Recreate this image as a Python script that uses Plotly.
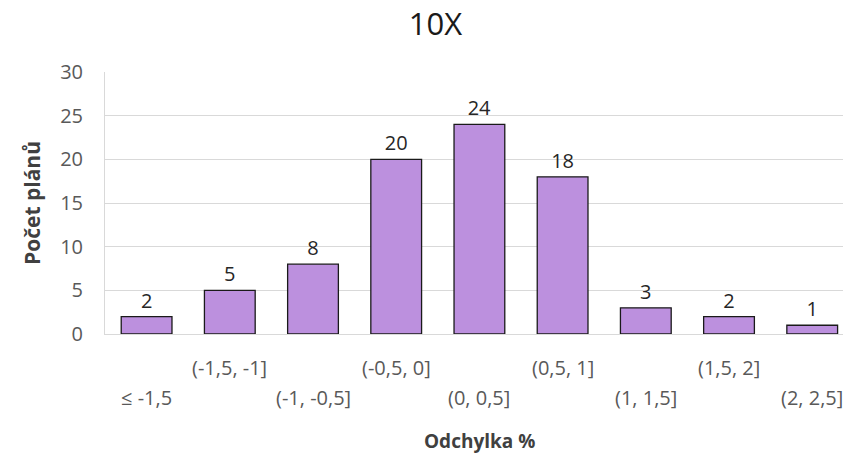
import plotly.graph_objects as go

categories = ["≤ -1,5", "(-1,5, -1]", "(-1, -0,5]", "(-0,5, 0]", "(0, 0,5]",
              "(0,5, 1]", "(1, 1,5]", "(1,5, 2]", "(2, 2,5]"]
counts = [2, 5, 8, 20, 24, 18, 3, 2, 1]
y_ticks = [0, 5, 10, 15, 20, 25, 30]

W, H = 843, 453
ML, MR, MT, MB = 105, 0, 72, 119
PW = W - ML - MR
PH = H - MT - MB
FONT = "Open Sans"

fig = go.Figure()
fig.add_trace(go.Bar(
    x=list(range(len(categories))), y=counts,
    marker=dict(color="#BC90DE", line=dict(color="#1a1a1a", width=1.3)),
    text=[str(v) for v in counts], textposition="outside",
    textfont=dict(family=FONT, size=20, color="#262626"),
    cliponaxis=False, width=0.61,
))

annotations = []
for i, c in enumerate(categories):
    py = 397 if i % 2 == 0 else 367
    annotations.append(dict(
        x=i, xref="x", y=(H - MB - py) / PH, yref="paper",
        text=c, showarrow=False, yanchor="middle", xanchor="center",
        font=dict(family=FONT, size=20, color="#595959"),
    ))
annotations.append(dict(
    x=(479 - ML) / PW, xref="paper", y=(H - MB - 441) / PH, yref="paper",
    text="<b>Odchylka %</b>", showarrow=False, yanchor="middle", xanchor="center",
    font=dict(family=FONT, size=19, color="#404040"),
))
annotations.append(dict(
    x=(32 - ML) / PW, xref="paper", y=0.5, yref="paper",
    text="<b>Počet plánů</b>", showarrow=False, textangle=-90,
    yanchor="middle", xanchor="center",
    font=dict(family=FONT, size=21, color="#404040"),
))

fig.update_layout(
    width=W, height=H,
    margin=dict(l=ML, r=MR, t=MT, b=MB),
    paper_bgcolor="white", plot_bgcolor="white",
    showlegend=False,
    title=dict(text="10X", x=435.5 / W, xanchor="center",
               y=1 - 24 / H, yanchor="middle",
               font=dict(family=FONT, size=31, color="#1a1a1a")),
    xaxis=dict(range=[-0.5, 8.37], showticklabels=False, showgrid=False,
               zeroline=False, showline=True, linecolor="#d9d9d9", linewidth=1,
               ticks=""),
    yaxis=dict(range=[0, 30], tickvals=y_ticks, showgrid=True,
               gridcolor="#d9d9d9", gridwidth=1, zeroline=False,
               showline=True, linecolor="#d9d9d9", linewidth=1,
               ticks="", ticklabelstandoff=17,
               tickfont=dict(family=FONT, size=20, color="#595959")),
    annotations=annotations,
)

fig.write_html(
    "out.html",
    config={"displayModeBar": False},
    post_script="document.body.style.margin='0';document.body.style.overflow='hidden';",
)
